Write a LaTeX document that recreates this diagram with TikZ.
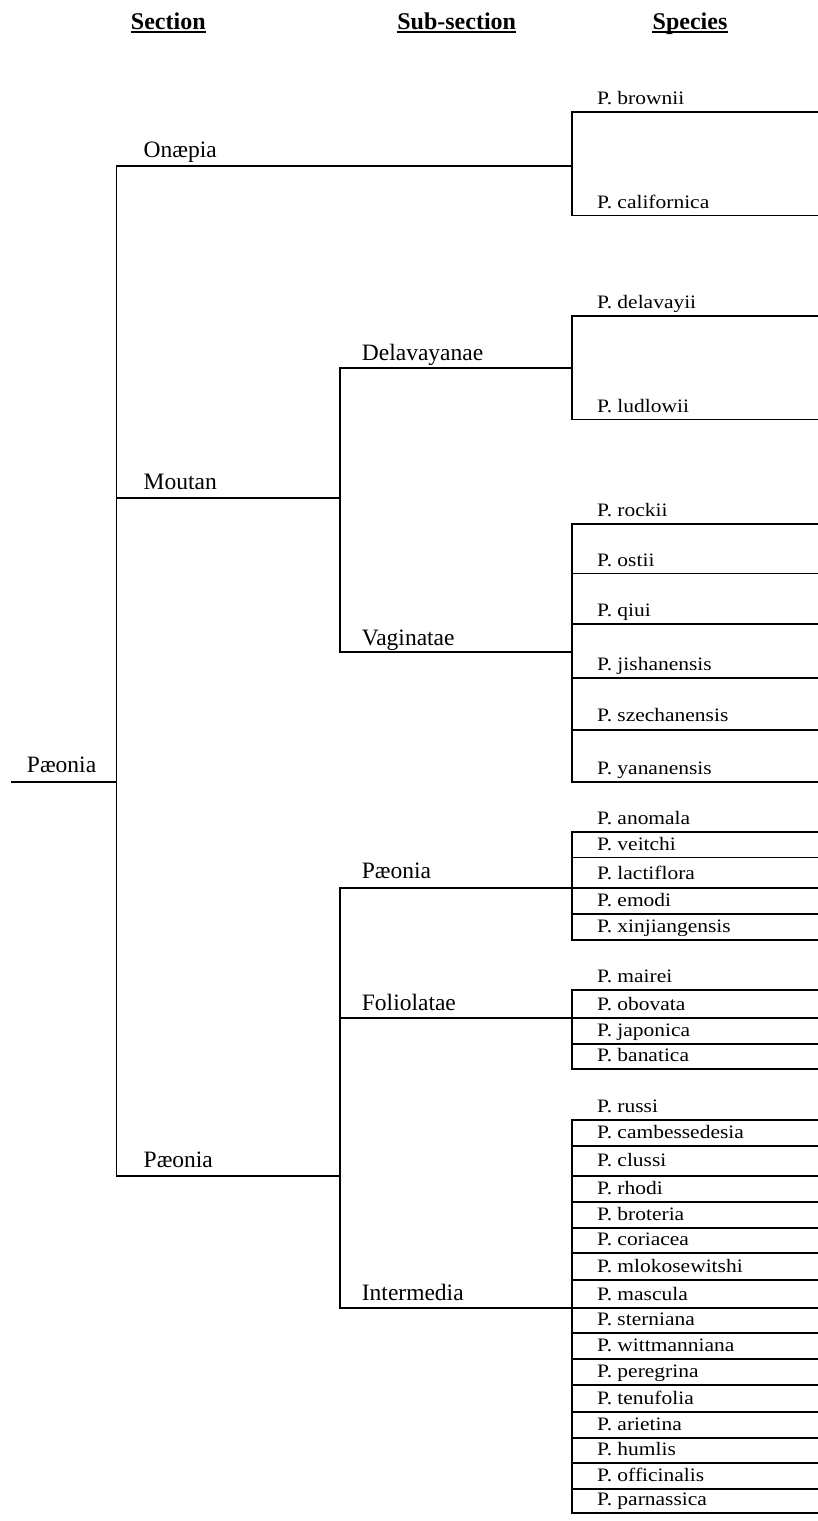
\documentclass[tikz,border=0pt]{standalone}
\usepackage{fontspec}
\setmainfont{Liberation Serif}
\newfontfamily\spfont{Liberation Serif}[FakeStretch=1.13]
\usetikzlibrary{positioning}

\begin{document}
\begin{tikzpicture}[x=1pt,y=1pt,yscale=-1,
	branch/.style={line width=1.8pt,line cap=rect},
	uline/.style={line width=2pt},
	head/.style={anchor=base,inner sep=0pt,font=\bfseries\fontsize{24}{28}\selectfont},
	lbl/.style={anchor=base west,inner sep=0pt,font=\fontsize{23.5}{28}\selectfont},
	sp/.style={anchor=base west,inner sep=0pt,font=\spfont\fontsize{19}{22}\selectfont}]
	\useasboundingbox (0,0) rectangle (817,1521);
	
	% Headings
	\node[head] (hsec) at (168.3,29.3) {Section};
	\node[head] (hsub) at (456.7,29.3) {Sub-section};
	\node[head] (hspe) at (690,29.3) {Species};
	\draw[uline] ([yshift=3pt]hsec.base west) -- ([yshift=3pt]hsec.base east);
	\draw[uline] ([yshift=3pt]hsub.base west) -- ([yshift=3pt]hsub.base east);
	\draw[uline] ([yshift=3pt]hspe.base west) -- ([yshift=3pt]hspe.base east);
	
	% Tree junctions
	\coordinate (root) at (11.5,781.7);
	\coordinate (sec) at (116.5,781.7);
	\coordinate (onaepia) at (116.5,166);
	\coordinate (moutan) at (116.5,497.7);
	\coordinate (paeonia) at (116.5,1176);
	\coordinate (moutan-r) at (340,497.7);
	\coordinate (paeonia-r) at (340,1176);
	\coordinate (delav) at (340,367.7);
	\coordinate (vagin) at (340,652);
	\coordinate (paeo) at (340,887.7);
	\coordinate (folio) at (340,1018);
	\coordinate (inter) at (340,1307.7);
	\coordinate (onaepia-r) at (572,166);
	\coordinate (delav-r) at (572,367.7);
	\coordinate (vagin-r) at (572,652);
	\coordinate (paeo-r) at (572,887.7);
	\coordinate (folio-r) at (572,1018);
	\coordinate (inter-r) at (572,1307.7);
	
	% Root and sections
	\draw[branch] (root) -- (sec);
	\draw[branch] (onaepia) -- (paeonia);
	\draw[branch] (onaepia) -- (onaepia-r);
	\draw[branch] (moutan) -- (moutan-r);
	\draw[branch] (paeonia) -- (paeonia-r);
	% Sub-sections
	\draw[branch] (delav) -- (vagin);
	\draw[branch] (delav) -- (delav-r);
	\draw[branch] (vagin) -- (vagin-r);
	\draw[branch] (paeo) -- (inter);
	\draw[branch] (paeo) -- (paeo-r);
	\draw[branch] (folio) -- (folio-r);
	\draw[branch] (inter) -- (inter-r);
	
	% Text Node
	\node[lbl] (proot) at (26.8,772.7) {Pæonia};
	\node[lbl] (lonaepia) at (143.5,157) {Onæpia};
	\node[lbl] (lmoutan) at (143.5,489) {Moutan};
	\node[lbl] (lpaeonia) at (143.5,1167) {Pæonia};
	\node[lbl] (ldelav) at (361.7,360.7) {Delavayanae};
	\node[lbl] (lvagin) at (361.7,645) {Vaginatae};
	\node[lbl] (lpaeo) at (361.7,878.5) {Pæonia};
	\node[lbl] (lfolio) at (361.7,1010.7) {Foliolatae};
	\node[lbl] (linter) at (361.7,1300) {Intermedia};
	
	% Onaepia species
	\draw[branch] (572,111.7) -- (572,215.5);
	\draw[branch] (572,111.7) -- (817,111.7);
	\draw[branch] (572,215.5) -- (817,215.5);
	\node[sp] (brownii) at (597,104.2) {P. brownii};
	\node[sp] (californica) at (597,208) {P. californica};
	
	% Delavayanae species
	\draw[branch] (572,316) -- (572,419.5);
	\draw[branch] (572,316) -- (817,316);
	\draw[branch] (572,419.5) -- (817,419.5);
	\node[sp] (delavayii) at (597,308.5) {P. delavayii};
	\node[sp] (ludlowii) at (597,412) {P. ludlowii};
	
	% Vaginatae species
	\draw[branch] (572,524) -- (572,781.7);
	\draw[branch] (572,524) -- (817,524);
	\draw[branch] (572,573.5) -- (817,573.5);
	\draw[branch] (572,623.7) -- (817,623.7);
	\draw[branch] (572,678.3) -- (817,678.3);
	\draw[branch] (572,729.7) -- (817,729.7);
	\draw[branch] (572,781.7) -- (817,781.7);
	\node[sp] (rockii) at (597,516.5) {P. rockii};
	\node[sp] (ostii) at (597,566) {P. ostii};
	\node[sp] (qiui) at (597,616.2) {P. qiui};
	\node[sp] (jishan) at (597,670.8) {P. jishanensis};
	\node[sp] (szechan) at (597,721.5) {P. szechanensis};
	\node[sp] (yanan) at (597,774.2) {P. yananensis};
	
	% Paeonia species
	\draw[branch] (572,832) -- (572,940);
	\draw[branch] (572,832) -- (817,832);
	\draw[branch] (572,857.5) -- (817,857.5);
	\draw[branch] (572,887.7) -- (817,887.7);
	\draw[branch] (572,914) -- (817,914);
	\draw[branch] (572,940) -- (817,940);
	\node[sp] (anomala) at (597,824.5) {P. anomala};
	\node[sp] (veitchi) at (597,850) {P. veitchi};
	\node[sp] (lactiflora) at (597,879.5) {P. lactiflora};
	\node[sp] (emodi) at (597,906.5) {P. emodi};
	\node[sp] (xinjiang) at (597,932.5) {P. xinjiangensis};
	
	% Foliolatae species
	\draw[branch] (572,990) -- (572,1069.3);
	\draw[branch] (572,990) -- (817,990);
	\draw[branch] (572,1018) -- (817,1018);
	\draw[branch] (572,1044) -- (817,1044);
	\draw[branch] (572,1069.3) -- (817,1069.3);
	\node[sp] (mairei) at (597,982.5) {P. mairei};
	\node[sp] (obovata) at (597,1010.5) {P. obovata};
	\node[sp] (japonica) at (597,1036.5) {P. japonica};
	\node[sp] (banatica) at (597,1061.8) {P. banatica};
	
	% Intermedia species
	\draw[branch] (572,1120) -- (572,1513.3);
	\draw[branch] (572,1120) -- (817,1120);
	\draw[branch] (572,1145.7) -- (817,1145.7);
	\draw[branch] (572,1176) -- (817,1176);
	\draw[branch] (572,1201.7) -- (817,1201.7);
	\draw[branch] (572,1228.3) -- (817,1228.3);
	\draw[branch] (572,1253.3) -- (817,1253.3);
	\draw[branch] (572,1280) -- (817,1280);
	\draw[branch] (572,1307.7) -- (817,1307.7);
	\draw[branch] (572,1333.3) -- (817,1333.3);
	\draw[branch] (572,1359.3) -- (817,1359.3);
	\draw[branch] (572,1385) -- (817,1385);
	\draw[branch] (572,1411.7) -- (817,1411.7);
	\draw[branch] (572,1437.7) -- (817,1437.7);
	\draw[branch] (572,1463.3) -- (817,1463.3);
	\draw[branch] (572,1489.3) -- (817,1489.3);
	\draw[branch] (572,1513.3) -- (817,1513.3);
	\node[sp] (russi) at (597,1112.5) {P. russi};
	\node[sp] (cambess) at (597,1138.2) {P. cambessedesia};
	\node[sp] (clussi) at (597,1166) {P. clussi};
	\node[sp] (rhodi) at (597,1194.2) {P. rhodi};
	\node[sp] (broteria) at (597,1220.8) {P. broteria};
	\node[sp] (coriacea) at (597,1245.8) {P. coriacea};
	\node[sp] (mlokos) at (597,1272.5) {P. mlokosewitshi};
	\node[sp] (mascula) at (597,1300.2) {P. mascula};
	\node[sp] (sterniana) at (597,1325.8) {P. sterniana};
	\node[sp] (wittman) at (597,1351.8) {P. wittmanniana};
	\node[sp] (peregrina) at (597,1377.5) {P. peregrina};
	\node[sp] (tenufolia) at (597,1404.2) {P. tenufolia};
	\node[sp] (arietina) at (597,1430.2) {P. arietina};
	\node[sp] (humlis) at (597,1455.8) {P. humlis};
	\node[sp] (officinalis) at (597,1481.8) {P. officinalis};
	\node[sp] (parnassica) at (597,1505.8) {P. parnassica};
\end{tikzpicture}
\end{document}
